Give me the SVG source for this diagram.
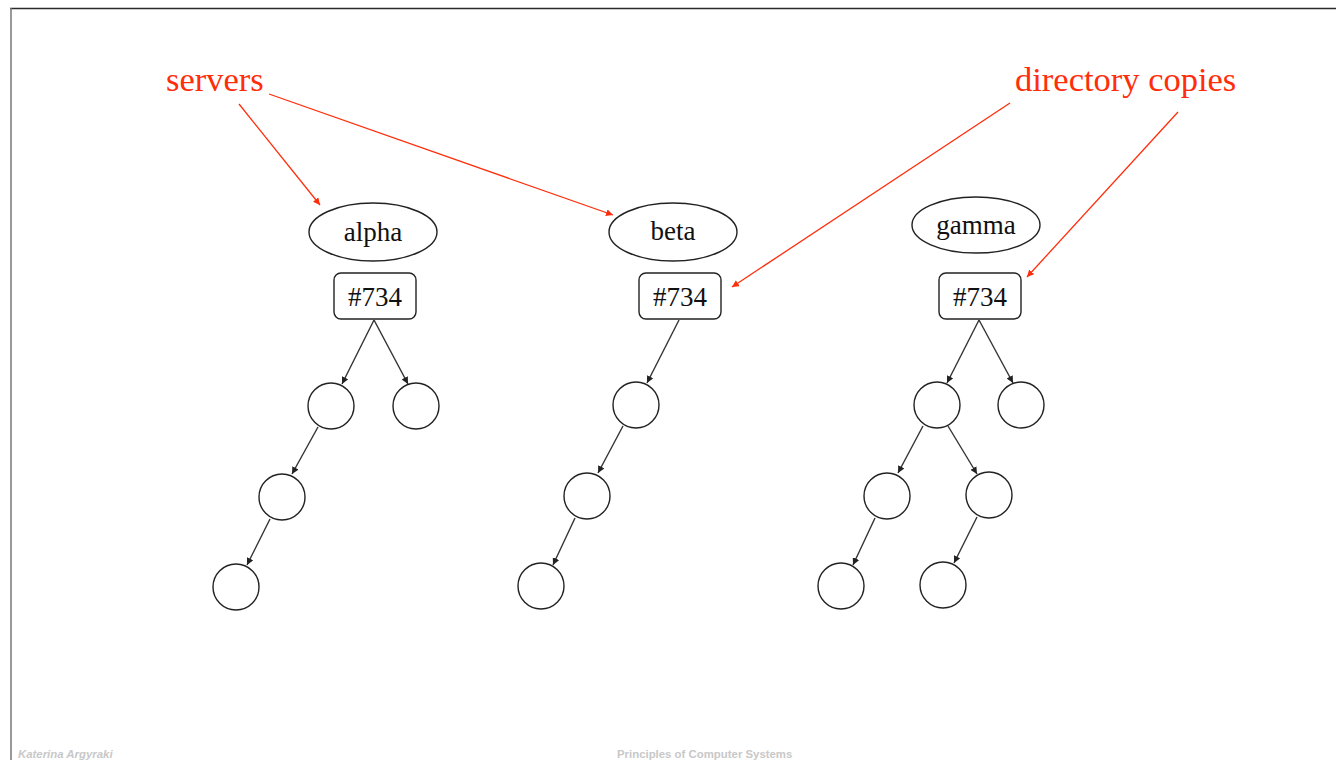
<svg xmlns="http://www.w3.org/2000/svg" width="1336" height="760" viewBox="0 0 1336 760">
<defs>
<marker id="ah" viewBox="0 0 10 10" refX="10" refY="5" markerWidth="7" markerHeight="7" markerUnits="userSpaceOnUse" orient="auto">
<path d="M0,0 L10,5 L0,10 z" fill="#222"/>
</marker>
<marker id="ahr" viewBox="0 0 10 10" refX="10" refY="5" markerWidth="7" markerHeight="7" markerUnits="userSpaceOnUse" orient="auto">
<path d="M0,0 L10,5 L0,10 z" fill="#ff2d0a"/>
</marker>
<style>
.node{fill:#fff;stroke:#222;stroke-width:1.4}
.lbl{font-family:"Liberation Serif","Times New Roman",serif;font-size:27px;fill:#111;text-anchor:middle}
.red{font-family:"Liberation Serif","Times New Roman",serif;font-size:34.5px;fill:#ff2d0a}
.edge{stroke:#333;stroke-width:1.4;fill:none;marker-end:url(#ah)}
.redline{stroke:#ff2d0a;stroke-width:1.3;fill:none;marker-end:url(#ahr)}
.foot{font-family:"Liberation Sans",Arial,sans-serif;font-size:11.4px;fill:#c8c8c8;font-weight:bold}
</style>
</defs>
<rect width="1336" height="760" fill="#fff"/>
<g id="frame">
<line x1="10" y1="8.5" x2="1336" y2="8.5" stroke="#2a2a2a" stroke-width="1.5"/>
<line x1="11" y1="8" x2="11" y2="760" stroke="#777" stroke-width="1.5"/>
</g>
<g id="labels">
<text class="red" x="166" y="91">servers</text>
<text class="red" x="1015" y="91">directory copies</text>
</g>
<g id="alpha"><ellipse class="node" cx="373" cy="232" rx="64" ry="29"/><text class="lbl" x="373" y="241">alpha</text></g>
<g id="beta"><ellipse class="node" cx="673" cy="232" rx="64" ry="29"/><text class="lbl" x="673" y="240">beta</text></g>
<g id="gamma"><ellipse class="node" cx="976" cy="225" rx="64" ry="28"/><text class="lbl" x="976" y="234">gamma</text></g>
<g id="dirA"><rect class="node" x="334" y="273" width="82" height="46" rx="7"/><text class="lbl" x="375" y="306">#734</text></g>
<g id="dirB"><rect class="node" x="639" y="273" width="82" height="46" rx="7"/><text class="lbl" x="680" y="306">#734</text></g>
<g id="dirG"><rect class="node" x="939" y="273" width="82" height="46" rx="7"/><text class="lbl" x="980" y="306">#734</text></g>
<g id="a1"><circle class="node" cx="331" cy="406" r="23"/></g>
<g id="a2"><circle class="node" cx="416" cy="406" r="23"/></g>
<g id="a3"><circle class="node" cx="282" cy="497" r="23"/></g>
<g id="a4"><circle class="node" cx="236" cy="587" r="23"/></g>
<g id="b1"><circle class="node" cx="636" cy="405" r="23"/></g>
<g id="b2"><circle class="node" cx="587" cy="496" r="23"/></g>
<g id="b3"><circle class="node" cx="541" cy="586" r="23"/></g>
<g id="g1"><circle class="node" cx="937" cy="405" r="23"/></g>
<g id="g2"><circle class="node" cx="1021" cy="405" r="23"/></g>
<g id="g3"><circle class="node" cx="887" cy="496" r="23"/></g>
<g id="g4"><circle class="node" cx="989" cy="495" r="23"/></g>
<g id="g5"><circle class="node" cx="841" cy="586" r="23"/></g>
<g id="g6"><circle class="node" cx="943" cy="585" r="23"/></g>
<g id="connectors">
<line class="edge" x1="374" y1="320" x2="342" y2="384"/>
<line class="edge" x1="374" y1="320" x2="408" y2="384"/>
<line class="edge" x1="318" y1="427" x2="292" y2="474"/>
<line class="edge" x1="270" y1="519" x2="247" y2="565"/>
<line class="edge" x1="679" y1="320" x2="647" y2="383"/>
<line class="edge" x1="623" y1="426" x2="598" y2="473"/>
<line class="edge" x1="575" y1="518" x2="553" y2="565"/>
<line class="edge" x1="979" y1="320" x2="947" y2="383"/>
<line class="edge" x1="979" y1="320" x2="1013" y2="383"/>
<line class="edge" x1="923" y1="426" x2="898" y2="473"/>
<line class="edge" x1="948" y1="426" x2="977" y2="474"/>
<line class="edge" x1="875" y1="518" x2="853" y2="565"/>
<line class="edge" x1="977" y1="517" x2="954" y2="563"/>
<line class="redline" x1="239" y1="104" x2="320" y2="205"/>
<line class="redline" x1="269" y1="94" x2="613" y2="215"/>
<line class="redline" x1="1010" y1="103" x2="732" y2="287"/>
<line class="redline" x1="1178" y1="112" x2="1027" y2="277"/>
</g>
<g id="footer">
<text class="foot" x="18" y="758" font-style="italic">Katerina Argyraki</text>
<text class="foot" x="617" y="758">Principles of Computer Systems</text>
</g>
</svg>
